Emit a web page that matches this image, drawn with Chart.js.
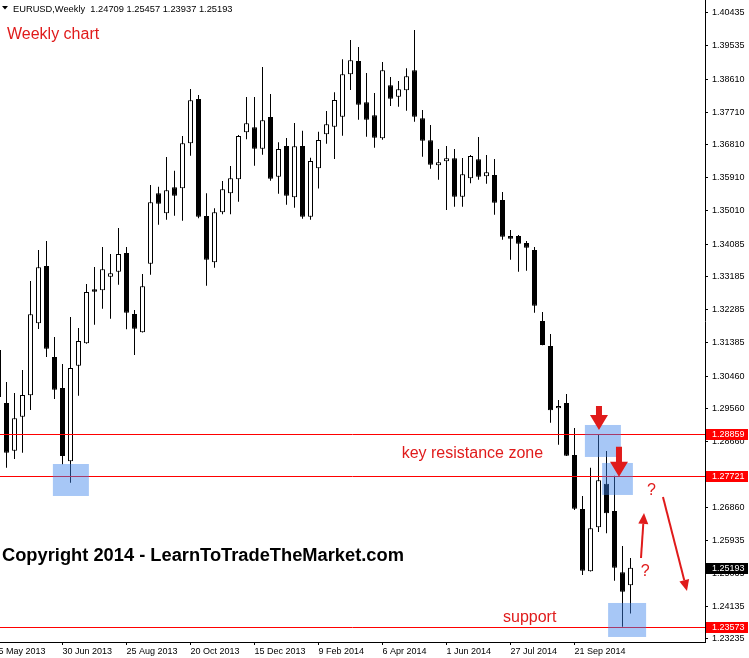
<!DOCTYPE html>
<html>
<head>
<meta charset="utf-8">
<script src="https://cdn.jsdelivr.net/npm/chart.js@4.4.1/dist/chart.umd.min.js"></script>
<style>
  html, body { margin: 0; padding: 0; background: #fff; }
  canvas { display: block; }
</style>
</head>
<body>
<canvas id="myChart" width="749" height="658" style="width:749px;height:658px"></canvas>
<script>
// EURUSD weekly candles, first one (week of 5 May 2013) is only partly visible
const firstWeek = -1;
const opens = [1.31176, 1.29719, 1.28409, 1.29343, 1.29931, 1.31909, 1.33484, 1.30983, 1.30132, 1.28118,
  1.30744, 1.31360, 1.32843, 1.32816, 1.33190, 1.33327, 1.33841, 1.32165, 1.31662, 1.33547,
  1.35481, 1.34932, 1.35646, 1.35619, 1.36855, 1.38072, 1.34857, 1.33585, 1.34959, 1.35481,
  1.35866, 1.37157, 1.37295, 1.36707, 1.37578, 1.35937, 1.36781, 1.35371, 1.36781, 1.34838,
  1.36168, 1.37102, 1.37311, 1.37586, 1.38751, 1.39116, 1.37981, 1.37624, 1.36992, 1.38449,
  1.38135, 1.38311, 1.38861, 1.37542, 1.36937, 1.36250, 1.36360, 1.36443, 1.35388, 1.35893,
  1.36415, 1.35948, 1.35984, 1.35297, 1.34308, 1.34308, 1.34116, 1.33923, 1.31972, 1.31286,
  1.29574, 1.29719, 1.28291, 1.26807, 1.25095, 1.26304, 1.27502, 1.26752, 1.25068, 1.24709];
const highs = [1.31450, 1.30296, 1.29994, 1.30626, 1.33071, 1.33923, 1.34171, 1.31533, 1.30791, 1.32082,
  1.31780, 1.32989, 1.33456, 1.34006, 1.33813, 1.34528, 1.34006, 1.32275, 1.33264, 1.35709,
  1.35662, 1.36479, 1.36102, 1.37056, 1.38347, 1.38182, 1.35481, 1.35069, 1.35819, 1.36231,
  1.37083, 1.38127, 1.38127, 1.38951, 1.38209, 1.36882, 1.37000, 1.37413, 1.37201, 1.36459,
  1.37174, 1.37742, 1.38256, 1.39163, 1.39693, 1.39501, 1.38786, 1.38237, 1.39089, 1.38677,
  1.38567, 1.38916, 1.39968, 1.37770, 1.37358, 1.36698, 1.36781, 1.36698, 1.36451, 1.36533,
  1.37028, 1.36533, 1.36424, 1.35517, 1.34473, 1.34335, 1.34171, 1.34006, 1.32220, 1.31615,
  1.29802, 1.29967, 1.29033, 1.27164, 1.27942, 1.28859, 1.28401, 1.27721, 1.25790, 1.25457];
const lows = [1.29802, 1.27942, 1.28181, 1.28354, 1.29527, 1.31753, 1.30983, 1.29829, 1.28035, 1.27530,
  1.29920, 1.31350, 1.31871, 1.32310, 1.32036, 1.32970, 1.31744, 1.31038, 1.31655, 1.33245,
  1.34618, 1.34756, 1.34866, 1.34728, 1.36514, 1.34794, 1.32942, 1.33437, 1.34904, 1.34904,
  1.35250, 1.36965, 1.36239, 1.36542, 1.35827, 1.35470, 1.35168, 1.35085, 1.34783, 1.34756,
  1.35613, 1.36844, 1.36424, 1.37064, 1.38319, 1.37503, 1.37036, 1.36734, 1.36954, 1.37880,
  1.37861, 1.37751, 1.37448, 1.36487, 1.36157, 1.35855, 1.35022, 1.35113, 1.35113, 1.35756,
  1.35855, 1.35745, 1.34893, 1.34206, 1.33657, 1.33327, 1.33354, 1.32200, 1.31305, 1.29178,
  1.28574, 1.28265, 1.26779, 1.24993, 1.25090, 1.26175, 1.26139, 1.24837, 1.23573, 1.23937];
const closes = [1.29884, 1.28354, 1.29299, 1.29939, 1.32157, 1.33448, 1.31211, 1.30085, 1.28263, 1.30681,
  1.31423, 1.32769, 1.32777, 1.33393, 1.33283, 1.33813, 1.32200, 1.31761, 1.32926, 1.35234,
  1.35195, 1.35564, 1.35415, 1.36855, 1.38036, 1.34838, 1.33657, 1.34959, 1.35591, 1.35893,
  1.37056, 1.37404, 1.36707, 1.37487, 1.35882, 1.36698, 1.35415, 1.36772, 1.34838, 1.36369,
  1.36946, 1.37377, 1.38045, 1.38751, 1.39135, 1.37915, 1.37503, 1.37009, 1.38861, 1.38080,
  1.38339, 1.38696, 1.37586, 1.36926, 1.36267, 1.36333, 1.36443, 1.35388, 1.36003, 1.36506,
  1.35937, 1.36058, 1.35223, 1.34289, 1.34234, 1.34096, 1.33986, 1.32393, 1.31313, 1.29519,
  1.29637, 1.28271, 1.26815, 1.25112, 1.26277, 1.27596, 1.26689, 1.25194, 1.24535, 1.25193];

// axis labels
const dateWeeks = [-1, 7, 15, 23, 31, 39, 47, 55, 63, 71];
const dateLabels = ['5 May 2013', '30 Jun 2013', '25 Aug 2013', '20 Oct 2013', '15 Dec 2013',
  '9 Feb 2014', '6 Apr 2014', '1 Jun 2014', '27 Jul 2014', '21 Sep 2014'];
const priceTicks = [1.40435, 1.39535, 1.38610, 1.37710, 1.36810, 1.35910, 1.35010, 1.34085, 1.33185, 1.32285,
  1.31385, 1.30460, 1.29560, 1.28660, 1.27760, 1.26860, 1.25935, 1.25035, 1.24135, 1.23235];

// drawn levels: key resistance (2) and support
const levels = [1.28859, 1.27721, 1.23573];

// highlighted zones, in week index / price
const zones = [
  { from: 5.8, to: 10.3, low: 1.27164, high: 1.28043 },
  { from: 72.3, to: 76.8, low: 1.28236, high: 1.29115 },
  { from: 74.45, to: 78.3, low: 1.27192, high: 1.28071 },
  { from: 75.2, to: 79.95, low: 1.23290, high: 1.24224 }
];

const RED = '#e01b1b';
const FONT = "'Liberation Sans', Arial, sans-serif";

const weeks = opens.map((_, k) => k + firstWeek);
const last = opens.length - 1;

function blockArrow(ctx, tx, ty, shaftLen) {
    const headLen = 15, headHalf = 9, shaftHalf = 3;
    ctx.beginPath();
    ctx.moveTo(tx, ty);
    ctx.lineTo(tx - headHalf, ty - headLen);
    ctx.lineTo(tx - shaftHalf, ty - headLen);
    ctx.lineTo(tx - shaftHalf, ty - headLen - shaftLen);
    ctx.lineTo(tx + shaftHalf, ty - headLen - shaftLen);
    ctx.lineTo(tx + shaftHalf, ty - headLen);
    ctx.lineTo(tx + headHalf, ty - headLen);
    ctx.closePath();
    ctx.fill();
}

function lineArrow(ctx, x0, y0, x1, y1) {
    const ang = Math.atan2(y1 - y0, x1 - x0);
    const headLen = 11, headHalf = 5;
    const bx = x1 - headLen * Math.cos(ang), by = y1 - headLen * Math.sin(ang);
    ctx.lineWidth = 2;
    ctx.beginPath();
    ctx.moveTo(x0, y0);
    ctx.lineTo(bx, by);
    ctx.stroke();
    ctx.beginPath();
    ctx.moveTo(x1, y1);
    ctx.lineTo(bx + headHalf * Math.sin(ang), by - headHalf * Math.cos(ang));
    ctx.lineTo(bx - headHalf * Math.sin(ang), by + headHalf * Math.cos(ang));
    ctx.closePath();
    ctx.fill();
}

const overlays = {
    id: 'overlays',
    afterDatasetsDraw(chart) {
        const { ctx, chartArea: a, scales: { x, y } } = chart;
        ctx.save();
        ctx.beginPath();
        ctx.rect(a.left, a.top, a.right - a.left, a.bottom - a.top);
        ctx.clip();

        // horizontal levels
        ctx.strokeStyle = '#ff0000';
        ctx.lineWidth = 1;
        levels.forEach(v => {
            const py = Math.round(y.getPixelForValue(v)) + 0.5;
            ctx.beginPath();
            ctx.moveTo(a.left, py);
            ctx.lineTo(a.right, py);
            ctx.stroke();
        });

        // blue zones
        ctx.fillStyle = 'rgba(60, 130, 235, 0.45)';
        zones.forEach(z => {
            const x0 = x.getPixelForValue(z.from), x1 = x.getPixelForValue(z.to);
            const y0 = y.getPixelForValue(z.high), y1 = y.getPixelForValue(z.low);
            ctx.fillRect(x0, y0, x1 - x0, y1 - y0);
        });

        // arrows
        ctx.fillStyle = RED;
        ctx.strokeStyle = RED;
        blockArrow(ctx, x.getPixelForValue(74.06), y.getPixelForValue(1.28978), 9);
        blockArrow(ctx, x.getPixelForValue(76.56), y.getPixelForValue(1.27694), 15);
        lineArrow(ctx, x.getPixelForValue(79.31), y.getPixelForValue(1.25461),
                  x.getPixelForValue(79.69), y.getPixelForValue(1.26697));
        lineArrow(ctx, x.getPixelForValue(82.06), y.getPixelForValue(1.27137),
                  x.getPixelForValue(85.06), y.getPixelForValue(1.24554));

        // annotation texts
        ctx.font = '16px ' + FONT;
        ctx.textAlign = 'left';
        ctx.textBaseline = 'alphabetic';
        ctx.fillText('key resistance zone', x.getPixelForValue(49.4), y.getPixelForValue(1.28194));
        ctx.fillText('support', x.getPixelForValue(62.06), y.getPixelForValue(1.23702));
        ctx.fillText('?', x.getPixelForValue(80.06), y.getPixelForValue(1.27192));
        ctx.fillText('?', x.getPixelForValue(79.27), y.getPixelForValue(1.24966));
        ctx.restore();
    },
    afterDraw(chart) {
        const { ctx, chartArea: a, scales: { y } } = chart;
        ctx.save();
        ctx.font = '9px ' + FONT;
        ctx.textBaseline = 'middle';
        ctx.textAlign = 'left';
        const tag = (v, bg) => {
            const py = Math.round(y.getPixelForValue(v));
            ctx.fillStyle = bg;
            ctx.fillRect(a.right + 1, py - 5, chart.width - a.right - 2, 11);
            ctx.fillStyle = '#fff';
            ctx.fillText(v.toFixed(5), a.right + 7, py + 1);
        };
        levels.forEach(v => tag(v, '#ff0000'));
        tag(closes[last], '#000');

        // header
        ctx.fillStyle = '#000';
        ctx.beginPath();
        ctx.moveTo(2, 6); ctx.lineTo(8, 6); ctx.lineTo(5, 9.5); ctx.closePath();
        ctx.fill();
        ctx.font = '9.3px ' + FONT;
        ctx.textBaseline = 'alphabetic';
        ctx.fillText('EURUSD,Weekly  ' + [opens[last], highs[last], lows[last], closes[last]]
            .map(v => v.toFixed(5)).join(' '), 13, 11.5);

        ctx.fillStyle = RED;
        ctx.font = '16px ' + FONT;
        ctx.fillText('Weekly chart', 7, 39);

        ctx.fillStyle = '#000';
        ctx.font = 'bold 18.3px ' + FONT;
        ctx.fillText('Copyright 2014 - LearnToTradeTheMarket.com', 2, 561);
        ctx.restore();
    }
};

const tickFont = { family: FONT, size: 9 };

new Chart(document.getElementById('myChart').getContext('2d'), {
    type: 'bar',
    data: {
        datasets: [
            {
                // candle bodies, open -> close
                data: weeks.map((w, k) => ({ x: w, y: [opens[k], closes[k]] })),
                backgroundColor: weeks.map((w, k) => closes[k] >= opens[k] ? '#fff' : '#000'),
                borderColor: '#000',
                borderWidth: 1,
                borderSkipped: false,
                inflateAmount: 0,
                grouped: false,
                barThickness: 5,
                maxBarThickness: 5,
                order: 1
            },
            {
                // wicks, low -> high
                data: weeks.map((w, k) => ({ x: w, y: [lows[k], highs[k]] })),
                backgroundColor: '#000',
                borderWidth: 0,
                inflateAmount: 0,
                grouped: false,
                barThickness: 1,
                maxBarThickness: 1,
                order: 2
            }
        ]
    },
    options: {
        responsive: false,
        devicePixelRatio: 1,
        animation: false,
        layout: { padding: 0 },
        plugins: { legend: { display: false }, tooltip: { enabled: false } },
        scales: {
            x: {
                type: 'linear',
                min: -0.8125,
                max: 87.3125,
                offset: false,
                bounds: 'data',
                grid: { drawOnChartArea: false, drawTicks: true, tickLength: 3, color: '#000', offset: false },
                border: { display: true, color: '#000', width: 1 },
                ticks: {
                    autoSkip: false,
                    align: 'start',
                    maxRotation: 0,
                    padding: 1,
                    color: '#000',
                    font: tickFont,
                    callback: v => dateLabels[dateWeeks.indexOf(v)]
                },
                afterBuildTicks: s => { s.ticks = dateWeeks.map(v => ({ value: v })); },
                afterFit: s => { s.height = 16; s.paddingLeft = 0; s.paddingRight = 0; }
            },
            y: {
                type: 'linear',
                position: 'right',
                min: 1.23152,
                max: 1.40792,
                bounds: 'data',
                beginAtZero: false,
                grid: { drawOnChartArea: false, drawTicks: true, tickLength: 3, color: '#000' },
                border: { display: true, color: '#000', width: 1 },
                ticks: {
                    autoSkip: false,
                    padding: 4,
                    color: '#000',
                    font: tickFont,
                    callback: v => v.toFixed(5)
                },
                afterBuildTicks: s => { s.ticks = priceTicks.map(v => ({ value: v })); },
                afterFit: s => { s.width = 44; s.paddingTop = 0; s.paddingBottom = 0; }
            }
        }
    },
    plugins: [overlays]
});
</script>
</body>
</html>
